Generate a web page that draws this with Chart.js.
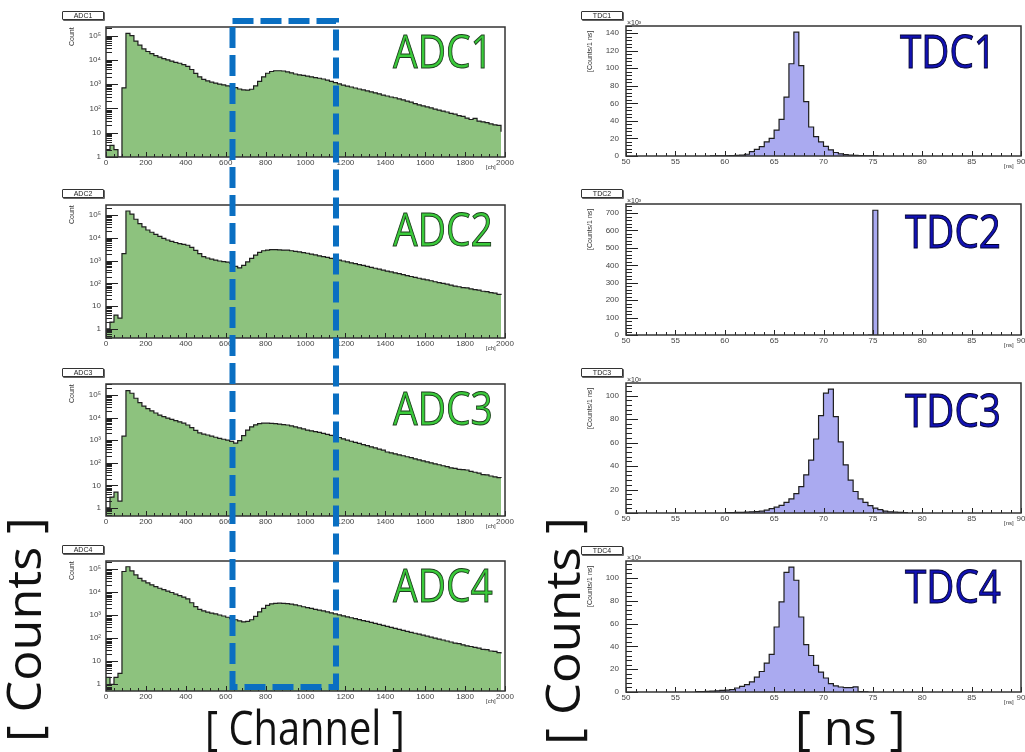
<!DOCTYPE html>
<html>
<head>
<meta charset="utf-8">
<script src="https://cdn.jsdelivr.net/npm/chart.js@4.4.1/dist/chart.umd.min.js"></script>
<style>
  body { margin: 0; background: #fff; }
  #page { position: relative; width: 1025px; height: 752px; overflow: hidden; font-family: 'Liberation Sans', Arial, sans-serif; }
  canvas { position: absolute; }
  .tag { position: absolute; box-sizing: border-box; height: 9px; border: 1px solid #333; border-radius: 1px;
         font-size: 7px; line-height: 7px; text-align: center; color: #222; background: #fff; box-shadow: 1px 1px 0 #666; }
  .small { position: absolute; font-size: 7px; line-height: 7px; color: #333; white-space: nowrap; transform-origin: 0 0; }
  .big { position: absolute; font-family: 'Open Sans', sans-serif; white-space: nowrap; transform-origin: 0 0; }
  .adc { color: #3acb3a; -webkit-text-stroke: 1px #1d3d1d; }
  .tdc { color: #1212b4; -webkit-text-stroke: 1px #000033; }
  .axis { color: #111; }
</style>
</head>
<body>
<div id="page"></div>
<script>
// -------------------------
// Datos: ADC (bins de 20 canales, desde 0)
// -------------------------
const adcBinStart = 0;
const adcBinWidth = 20;
const adcDecades = [1, 10, 100, 1000, 10000, 100000];
const adcDecadeLabels = ['1', '10', '10²', '10³', '10⁴', '10⁵'];

const adc1Counts = [
  2, 3, 2, 1, 700, 123000, 98000, 59000, 40000, 28000,
  22000, 18000, 15000, 13000, 11200, 10000, 8900, 7900, 7200, 6300,
  5400, 4000, 2750, 2000, 1580, 1350, 1200, 1100, 1000, 930,
  850, 780, 710, 630, 575, 570, 615, 850, 1300, 2000,
  2800, 3300, 3550, 3550, 3470, 3160, 2900, 2600, 2400, 2300,
  2140, 2000, 1860, 1740, 1620, 1450, 1290, 1150, 1020, 910,
  830, 760, 690, 630, 575, 525, 480, 436, 400, 355,
  324, 295, 275, 245, 224, 200, 182, 158, 141, 126,
  115, 105, 93, 85, 78, 71, 63, 58, 50, 47,
  40, 35, 39, 30, 28, 26, 23, 21, 20, 11
];
const adc2Counts = [
  1, 2, 4, 3, 2000, 150000, 110000, 65000, 42000, 30000,
  22000, 17500, 14000, 11500, 9500, 8000, 7000, 6200, 5600, 5100,
  4700, 3800, 2800, 2000, 1500, 1300, 1150, 1050, 960, 900,
  850, 760, 560, 480, 620, 870, 1250, 1750, 2300, 2700,
  2900, 3000, 3000, 2950, 2900, 2850, 2700, 2550, 2400, 2250,
  2100, 1930, 1770, 1620, 1490, 1370, 1250, 1150, 1050, 960,
  880, 800, 730, 670, 610, 555, 505, 460, 420, 380,
  347, 318, 290, 265, 240, 220, 200, 185, 168, 154,
  141, 130, 118, 108, 99, 92, 84, 76, 71, 65,
  63, 57, 53, 50, 45, 43, 39, 37, 33, 31
];
const adc3Counts = [
  1, 3, 5, 2, 1500, 158000, 120000, 72000, 46000, 32000,
  25000, 20000, 16000, 13000, 11000, 9500, 8300, 7300, 6500, 5700,
  4700, 3600, 2700, 2100, 1850, 1700, 1500, 1350, 1200, 1100,
  1000, 880, 740, 950, 1600, 2800, 3900, 4800, 5400, 5700,
  5700, 5600, 5400, 5100, 4900, 4700, 4300, 3900, 3500, 3150,
  2800, 2600, 2400, 2200, 2000, 1800, 1650, 1500, 1320, 1150,
  1000, 900, 800, 720, 640, 570, 510, 455, 405, 360,
  300, 275, 250, 225, 205, 185, 168, 150, 135, 122,
  110, 100, 90, 82, 74, 67, 60, 56, 51, 50,
  48, 42, 38, 35, 30, 29, 26, 24, 22, 21
];
const adc4Counts = [
  2, 1, 2, 3, 80000, 129000, 85000, 57000, 40000, 31000,
  25500, 21000, 17500, 15000, 13000, 11300, 9800, 8300, 7200, 6200,
  5200, 3500, 2400, 1800, 1550, 1380, 1250, 1140, 1030, 930,
  820, 720, 640, 570, 520, 540, 640, 900, 1400, 2000,
  2700, 3150, 3300, 3350, 3300, 3200, 3050, 2850, 2600, 2350,
  2150, 1980, 1820, 1680, 1540, 1400, 1270, 1150, 1040, 950,
  860, 780, 710, 650, 590, 540, 490, 445, 405, 365,
  330, 300, 272, 246, 222, 200, 182, 165, 150, 136,
  124, 112, 102, 92, 84, 76, 69, 62, 58, 52,
  47, 44, 40, 37, 33, 32, 28, 27, 24, 22
];

// -------------------------
// Datos: TDC (bins de 0.5 ns, cuentas en unidades de 10³)
// -------------------------
const tdcBinWidth = 0.5;
const tdc1Start = 58.5;
const tdc1Counts = [
  0.1, 0.15, 0.2, 0.3, 0.5, 0.7, 1.0, 2.0, 5.0, 7.6,
  10.6, 16, 20, 29.5, 41.6, 67, 105, 141, 103, 62,
  33, 22, 16, 11, 7, 4, 2.5, 1.5, 1.0, 0.6,
  0.4, 0.3, 0.2, 0.1
];
const tdc2Start = 74.5;
const tdc2Counts = [0, 716];
const tdc3Start = 60.0;
const tdc3Counts = [
  0.3, 0.4, 0.5, 0.6, 0.8, 1.0, 1.2, 1.6, 2.4, 3.8,
  5.0, 6.5, 9, 12, 16.5, 22.5, 32.5, 45, 63, 83,
  102, 105.5, 82, 60.5, 41, 28, 18.3, 12, 9, 6.2,
  4.2, 2.8, 1.6, 1.0, 0.7, 0.5, 0.3
];
const tdc4Start = 57.0;
const tdc4Counts = [
  0.3, 0.4, 0.5, 0.7, 1.0, 1.5, 1.6, 2.0, 3.5, 5.0,
  6.5, 8.8, 13, 18, 25.4, 33, 57, 79, 105, 109.6,
  98, 65.8, 41.6, 32, 23.4, 17.5, 12.3, 7.4, 5.3, 4.4,
  3.9, 3.9, 4.5, 0.4, 0.2
];

// -------------------------
// Disposición de los paneles (área de trazado en px de página)
// -------------------------
const adcPanels = [
  { name: 'ADC1', counts: adc1Counts, box: [106, 27, 505, 157], yMin: 1, yMax: 2.24e5 },
  { name: 'ADC2', counts: adc2Counts, box: [106, 205, 505, 338], yMin: 0.40, yMax: 2.75e5 },
  { name: 'ADC3', counts: adc3Counts, box: [106, 384, 505, 516], yMin: 0.44, yMax: 3.08e5 },
  { name: 'ADC4', counts: adc4Counts, box: [106, 561, 505, 691], yMin: 0.51, yMax: 2.29e5 }
];
const tdcPanels = [
  { name: 'TDC1', start: tdc1Start, counts: tdc1Counts, box: [626, 26, 1021, 156], yMax: 148, yStep: 20 },
  { name: 'TDC2', start: tdc2Start, counts: tdc2Counts, box: [626, 204, 1021, 335], yMax: 752, yStep: 100 },
  { name: 'TDC3', start: tdc3Start, counts: tdc3Counts, box: [626, 383, 1021, 513], yMax: 110.7, yStep: 20 },
  { name: 'TDC4', start: tdc4Start, counts: tdc4Counts, box: [626, 561, 1021, 692], yMax: 114.9, yStep: 20 }
];

const page = document.getElementById('page');
const TICK_FONT = { size: 8, family: "'Liberation Sans', Arial, sans-serif" };

// Marcas hacia dentro y marco estilo ROOT
const rootAxes = {
  id: 'rootAxes',
  afterDatasetsDraw(chart, args, o) {
    const { ctx, chartArea: a } = chart;
    const x = chart.scales.x, y = chart.scales.y;
    ctx.save();
    ctx.strokeStyle = '#222';
    ctx.lineWidth = 1;
    ctx.beginPath();
    const markX = (vals, len) => vals.forEach(v => {
      if (v < x.min || v > x.max) return;
      const p = Math.round(x.getPixelForValue(v)) + 0.5;
      ctx.moveTo(p, a.bottom); ctx.lineTo(p, a.bottom - len);
    });
    const markY = (vals, len) => vals.forEach(v => {
      if (v < y.min || v > y.max) return;
      const p = Math.round(y.getPixelForValue(v)) + 0.5;
      ctx.moveTo(a.left, p); ctx.lineTo(a.left + len, p);
    });
    markX(o.xMajor, 5); markX(o.xMinor, 3);
    markY(o.yMajor, 12); markY(o.yMinor, 6);
    ctx.stroke();
    ctx.lineWidth = 1.5;
    ctx.strokeStyle = '#333';
    ctx.strokeRect(a.left, a.top, a.right - a.left, a.bottom - a.top);
    ctx.restore();
  }
};

function histPoints(start, width, counts) {
  const pts = counts.map((c, i) => ({ x: start + i * width, y: c }));
  pts.push({ x: start + counts.length * width, y: 0 });
  return pts;
}

function range(from, to, step) {
  const out = [];
  for (let v = from; v <= to + 1e-9; v += step) out.push(+v.toFixed(6));
  return out;
}

function makeCanvas(box) {
  const [l, t, r, b] = box;
  const pad = { l: 52, t: 10, r: 14, b: 14 };
  const cv = document.createElement('canvas');
  const w = r - l + pad.l + pad.r, h = b - t + pad.t + pad.b;
  cv.width = w; cv.height = h;
  cv.style.left = (l - pad.l) + 'px';
  cv.style.top = (t - pad.t) + 'px';
  cv.style.width = w + 'px';
  cv.style.height = h + 'px';
  page.appendChild(cv);
  return { cv, pad };
}

function histChart(box, dataset, xScale, yScale, ticks) {
  const { cv, pad } = makeCanvas(box);
  xScale.afterFit = s => { s.height = pad.b; s.paddingLeft = 0; s.paddingRight = 0; };
  yScale.afterFit = s => { s.width = pad.l; s.paddingTop = 0; s.paddingBottom = 0; };
  return new Chart(cv, {
    type: 'line',
    data: { datasets: [Object.assign({
      stepped: true, fill: 'start', borderColor: '#1e1e1e', borderWidth: 1.2,
      pointRadius: 0, tension: 0
    }, dataset)] },
    options: {
      responsive: false, animation: false, devicePixelRatio: 1,
      layout: { padding: { left: 0, top: pad.t, right: pad.r, bottom: 0 } },
      plugins: { legend: { display: false }, tooltip: { enabled: false }, rootAxes: ticks },
      scales: { x: xScale, y: yScale }
    },
    plugins: [rootAxes]
  });
}

// -------------------------
// Paneles ADC
// -------------------------
adcPanels.forEach(p => {
  const minor = [];
  [0.1, 1, 10, 100, 1000, 10000, 100000].forEach(d => {
    for (let k = 2; k <= 9; k++) minor.push(k * d);
  });
  histChart(p.box,
    { data: histPoints(adcBinStart, adcBinWidth, p.counts), backgroundColor: '#8dc27e' },
    {
      type: 'linear', min: 0, max: 2000,
      grid: { display: false, drawTicks: false }, border: { display: false },
      ticks: { stepSize: 200, autoSkip: false, maxRotation: 0, padding: 1, color: '#444', font: TICK_FONT,
               callback: v => String(v) }
    },
    {
      type: 'logarithmic', min: p.yMin, max: p.yMax,
      grid: { display: false, drawTicks: false }, border: { display: false },
      afterBuildTicks: s => { s.ticks = adcDecades.filter(v => v >= s.min && v <= s.max).map(v => ({ value: v })); },
      ticks: { autoSkip: false, padding: 5, color: '#444', font: TICK_FONT,
               callback: v => adcDecadeLabels[adcDecades.indexOf(v)] || '' }
    },
    { xMajor: range(0, 2000, 200), xMinor: range(0, 2000, 40), yMajor: adcDecades, yMinor: minor }
  );
});

// -------------------------
// Paneles TDC
// -------------------------
tdcPanels.forEach(p => {
  histChart(p.box,
    { data: histPoints(p.start, tdcBinWidth, p.counts), backgroundColor: '#aaaaf0' },
    {
      type: 'linear', min: 50, max: 90,
      grid: { display: false, drawTicks: false }, border: { display: false },
      ticks: { stepSize: 5, autoSkip: false, maxRotation: 0, padding: 1, color: '#444', font: TICK_FONT,
               callback: v => String(v) }
    },
    {
      type: 'linear', min: 0, max: p.yMax,
      grid: { display: false, drawTicks: false }, border: { display: false },
      ticks: { stepSize: p.yStep, includeBounds: false, autoSkip: false, padding: 7, color: '#444', font: TICK_FONT,
               callback: v => String(v) }
    },
    { xMajor: range(50, 90, 5), xMinor: range(50, 90, 1), yMajor: range(0, p.yMax, p.yStep), yMinor: range(0, p.yMax, p.yStep / 5) }
  );
});

// -------------------------
// Textos
// -------------------------
function addDiv(cls, txt, css) {
  const el = document.createElement('div');
  el.className = cls;
  el.textContent = txt;
  Object.assign(el.style, css);
  page.appendChild(el);
  return el;
}

adcPanels.forEach(p => {
  const [l, t, r, b] = p.box;
  addDiv('tag', p.name, { left: '62px', top: (t - 16) + 'px', width: '42px' });
  addDiv('small', 'Count', { left: '68px', top: (t + 19) + 'px', transform: 'rotate(-90deg)' });
  addDiv('small', '[ch]', { left: '486px', top: (b + 7) + 'px', fontSize: '6px' });
});
tdcPanels.forEach(p => {
  const [l, t, r, b] = p.box;
  addDiv('tag', p.name, { left: '581px', top: (t - 15) + 'px', width: '42px' });
  addDiv('small', '[Counts/1 ns]', { left: '586px', top: (t + 46) + 'px', transform: 'rotate(-90deg)' });
  addDiv('small', '×10³', { left: '627px', top: (t - 7) + 'px' });
  addDiv('small', '[ns]', { left: '1004px', top: (b + 7) + 'px', fontSize: '6px' });
});

// Texto grande ajustado a su caja: x, parte superior de mayúsculas, ancho
function bigText(txt, cls, x, capTop, width, fs, rotated) {
  const el = addDiv('big ' + cls, txt, { fontSize: fs + 'px', lineHeight: fs + 'px', left: '0px', top: '0px' });
  const s = width / el.offsetWidth;
  if (!rotated) {
    el.style.left = x + 'px';
    el.style.top = (capTop - 0.174 * fs) + 'px';
    el.style.transform = 'scaleX(' + s + ')';
  } else {
    // texto vertical: x = borde de mayúsculas, capTop = extremo inferior
    el.style.left = (x - 0.174 * fs) + 'px';
    el.style.top = capTop + 'px';
    el.style.transform = 'rotate(-90deg) scaleX(' + s + ')';
  }
}

function drawTexts() {
  const adcLabelPos = [[393, 35], [393, 213], [393, 392], [393, 569]];
  const tdcLabelPos = [[900, 35], [905, 215], [905, 394], [905, 570]];
  adcPanels.forEach((p, i) => bigText(p.name, 'adc', adcLabelPos[i][0], adcLabelPos[i][1], 100, 46));
  tdcPanels.forEach((p, i) => bigText(p.name, 'tdc', tdcLabelPos[i][0], tdcLabelPos[i][1], 96, 46));
  bigText('[ Channel ]', 'axis', 205, 712, 200, 47);
  bigText('[ ns ]', 'axis', 795, 712, 110, 47);
  bigText('[ Counts ]', 'axis', 8, 742, 225, 47, true);
  bigText('[ Counts ]', 'axis', 547, 745, 228, 47, true);

  // Rectángulo discontinuo
  const ns = 'http://www.w3.org/2000/svg';
  const svg = document.createElementNS(ns, 'svg');
  svg.setAttribute('width', 1025); svg.setAttribute('height', 752);
  svg.style.cssText = 'position:absolute;left:0;top:0';
  const rect = document.createElementNS(ns, 'rect');
  rect.setAttribute('x', 232.5); rect.setAttribute('y', 21);
  rect.setAttribute('width', 103.5); rect.setAttribute('height', 666);
  rect.setAttribute('fill', 'none'); rect.setAttribute('stroke', '#0a6fc2');
  rect.setAttribute('stroke-width', 6); rect.setAttribute('stroke-dasharray', '21 7');
  svg.appendChild(rect);
  page.appendChild(svg);
}

if (document.fonts && document.fonts.ready) document.fonts.ready.then(drawTexts); else drawTexts();
</script>
</body>
</html>
